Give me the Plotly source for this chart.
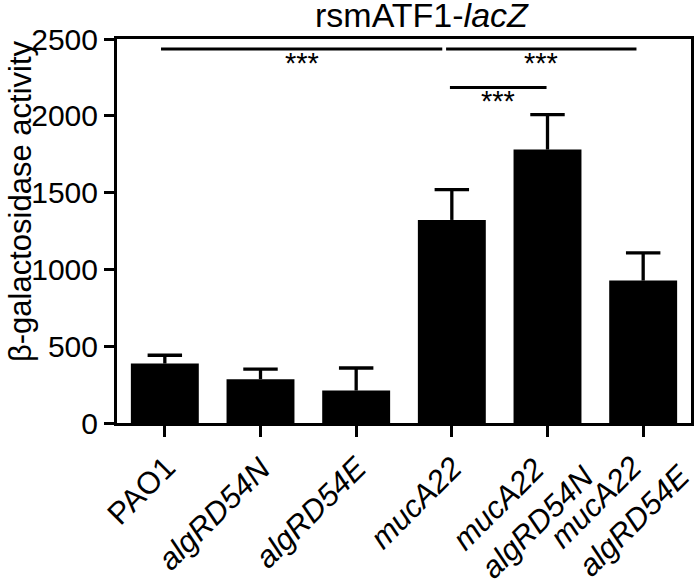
import plotly.graph_objects as go

strains = ["PAO1", "algRD54N", "algRD54E", "mucA22",
           "mucA22<br>algRD54N", "mucA22<br>algRD54E"]
italic = [False, True, True, True, True, True]
activity = [387, 285, 211, 1322, 1780, 927]
sem = [54, 66, 147, 197, 228, 180]
y_ticks = [0, 500, 1000, 1500, 2000, 2500]

# significance bars
sig_x0 = [-0.04, 2.94, 2.98]
sig_x1 = [2.9, 4.93, 3.99]
sig_y = [2435, 2435, 2185]
sig_text = ["***", "***", "***"]

FONT = "Liberation Sans, Arial, sans-serif"
CAP = 0.18  # half cap width, category units

xs = list(range(len(strains)))

fig = go.Figure()
fig.add_trace(go.Bar(x=xs, y=activity, width=0.71,
                     marker=dict(color="black", line=dict(width=0)), hoverinfo="skip"))

# upper error bars with caps
ex, ey = [], []
for x, v, s in zip(xs, activity, sem):
    ex += [x, x, None, x - CAP, x + CAP, None]
    ey += [v, v + s, None, v + s, v + s, None]
fig.add_trace(go.Scatter(x=ex, y=ey, mode="lines",
                         line=dict(color="black", width=3.3), hoverinfo="skip"))

for x0, x1, y, t in zip(sig_x0, sig_x1, sig_y, sig_text):
    fig.add_shape(type="line", x0=x0, x1=x1, y0=y, y1=y,
                  xref="x", yref="y", line=dict(color="black", width=3))
    fig.add_annotation(x=(x0 + x1) / 2, y=y, text=t, showarrow=False,
                       xref="x", yref="y", yanchor="top", yshift=4,
                       font=dict(size=29, color="black", family=FONT))

# category labels, rotated
for x, name, it in zip(xs, strains, italic):
    two = "<br>" in name
    txt = "<br>".join(f"<i>{p}</i>" if it else p for p in name.split("<br>"))
    fig.add_annotation(
        x=x, y=0, xref="x", yref="paper", text=txt, showarrow=False,
        textangle=-45, align="left", xanchor="right", yanchor="top",
        xshift=56 if two else 20, yshift=-4 if two else -24,
        font=dict(size=31, color="black", family=FONT))

fig.add_annotation(text="rsmATF1-<i>lacZ</i>", xref="paper", yref="paper",
                   x=0.531, y=1.062, xanchor="center", yanchor="middle",
                   showarrow=False, font=dict(size=34, color="black", family=FONT))
fig.add_annotation(text="\u03b2-galactosidase activity", xref="paper", yref="paper",
                   x=-0.169, y=0.578, textangle=-90, xanchor="center", yanchor="middle",
                   showarrow=False, font=dict(size=31, color="black", family=FONT))

fig.update_xaxes(range=[-0.5, 5.5], tickmode="array", tickvals=xs, showticklabels=False,
                 showline=True, linecolor="black", linewidth=3, mirror=True,
                 ticks="outside", ticklen=11, tickwidth=3, tickcolor="black",
                 showgrid=False, zeroline=False, automargin=False)
fig.update_yaxes(range=[0, 2500], tickmode="array", tickvals=y_ticks,
                 showline=True, linecolor="black", linewidth=3, mirror=True,
                 ticks="outside", ticklen=10, tickwidth=3, tickcolor="black",
                 showgrid=False, zeroline=False, automargin=False,
                 tickfont=dict(size=30, color="black", family=FONT))
fig.update_layout(width=700, height=586, margin=dict(l=117, r=9, t=39, b=163),
                  plot_bgcolor="white", paper_bgcolor="white", showlegend=False)

fig.write_html("out.html", config={"displayModeBar": False},
               post_script="document.body.style.margin='0';"
                           "document.body.style.overflow='hidden';")
